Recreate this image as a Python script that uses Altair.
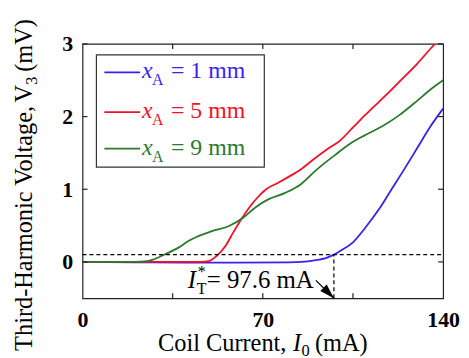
import altair as alt
import pandas as pd

# ---------------- data ----------------
series_names = ["1 mm", "5 mm", "9 mm"]
series_colors = ["#3b1ff0", "#f5102a", "#2c7a2c"]

blue_I = [0, 20, 40, 60, 80, 85, 90, 95, 97.6, 100, 105, 110, 115, 120, 125, 130, 135, 140]
blue_V = [0, -0.005, -0.01, -0.01, -0.005, 0.0, 0.02, 0.06, 0.1, 0.15, 0.27, 0.48, 0.72,
          1.0, 1.28, 1.57, 1.86, 2.11]

red_I = [0, 20, 40, 46, 49, 52, 55.5, 58.6, 61.7, 65.2, 68.3, 71.3, 76, 80, 85, 90, 95,
         100, 105, 110, 115, 120, 125, 130, 135, 140]
red_V = [0, 0, 0, 0, 0.01, 0.08, 0.22, 0.41, 0.59, 0.77, 0.9, 1.0, 1.09, 1.17, 1.28, 1.42,
         1.55, 1.67, 1.85, 2.03, 2.2, 2.37, 2.55, 2.73, 2.93, 3.12]

green_I = [0, 20, 25, 28, 32.4, 37.4, 41.3, 44, 50, 56.7, 62.5, 67.1, 72.1, 78.7, 84.8,
           90.6, 98, 104, 110, 117, 123, 130, 135, 140]
green_V = [0, 0, 0.01, 0.04, 0.11, 0.2, 0.29, 0.34, 0.42, 0.49, 0.61, 0.75, 0.86, 0.95,
           1.07, 1.26, 1.47, 1.63, 1.75, 1.88, 2.02, 2.22, 2.37, 2.5]

x_tick_labels = [0, 70, 140]
x_minor_ticks = [35, 70, 105]
y_ticks = [0, 1, 2, 3]

threshold_V = 0.1
IT = 97.6

# ---------------- build ----------------
FONT = "'Liberation Serif', 'Times New Roman', Times, 'DejaVu Serif', serif"
W, H = 363, 256
X_DOM = [0, 140]
Y_DOM = [-0.5, 3]

rows = []
for name, xs_, ys_ in zip(series_names, [blue_I, red_I, green_I], [blue_V, red_V, green_V]):
    for a, b in zip(xs_, ys_):
        rows.append({"I": a, "V": b, "s": name})
df = pd.DataFrame(rows)

xs = alt.Scale(domain=X_DOM, nice=False, zero=False)
ys = alt.Scale(domain=Y_DOM, nice=False, zero=False)

curves = alt.Chart(df).mark_line(interpolate="monotone", strokeWidth=1.8, clip=True).encode(
    x=alt.X("I:Q", scale=xs,
            axis=alt.Axis(values=x_tick_labels, title=None, grid=False, ticks=False,
                          domain=False, labelFlush=False, labelPadding=11, format="d")),
    y=alt.Y("V:Q", scale=ys,
            axis=alt.Axis(values=y_ticks, title=None, grid=False, ticks=False,
                          domain=False, labelPadding=10, format="d")),
    color=alt.Color("s:N", scale=alt.Scale(domain=series_names, range=series_colors), legend=None),
    detail="s:N",
)

layers = [curves]

# threshold dashed lines
thr = pd.DataFrame({"x0": [X_DOM[0]], "x1": [X_DOM[1]], "y": [threshold_V]})
layers.append(alt.Chart(thr).mark_rule(color="black", strokeDash=[4, 3], strokeWidth=1.2).encode(
    x=alt.X("x0:Q", scale=xs), x2="x1:Q", y=alt.Y("y:Q", scale=ys)))
vt = pd.DataFrame({"x": [IT], "y0": [Y_DOM[0]], "y1": [threshold_V]})
layers.append(alt.Chart(vt).mark_rule(color="black", strokeDash=[4, 3], strokeWidth=1.2).encode(
    x=alt.X("x:Q", scale=xs), y=alt.Y("y0:Q", scale=ys), y2="y1:Q"))

# arrow
arr = pd.DataFrame({"x": [90.6, IT], "y": [-0.254, Y_DOM[0]], "o": [0, 1]})
layers.append(alt.Chart(arr).mark_line(color="black", strokeWidth=1.3).encode(
    x=alt.X("x:Q", scale=xs), y=alt.Y("y:Q", scale=ys), order="o:Q"))
tip = pd.DataFrame({"x": [IT], "y": [Y_DOM[0]]})
layers.append(alt.Chart(tip).mark_point(shape="M0,0L-0.4,1.3L0.4,1.3Z", filled=True,
                                        size=520, angle=135, color="black", opacity=1).encode(
    x=alt.X("x:Q", scale=xs), y=alt.Y("y:Q", scale=ys)))

# inward ticks
tx = pd.DataFrame({"v": x_minor_ticks})
layers.append(alt.Chart(tx).mark_rule(color="#222", strokeWidth=1.2).encode(
    x=alt.X("v:Q", scale=xs), y=alt.value(H), y2=alt.value(H - 5)))
layers.append(alt.Chart(tx).mark_rule(color="#222", strokeWidth=1.2).encode(
    x=alt.X("v:Q", scale=xs), y=alt.value(0), y2=alt.value(5)))
ty = pd.DataFrame({"v": y_ticks})
layers.append(alt.Chart(ty).mark_rule(color="#222", strokeWidth=1.2).encode(
    y=alt.Y("v:Q", scale=ys), x=alt.value(0), x2=alt.value(5)))
layers.append(alt.Chart(ty).mark_rule(color="#222", strokeWidth=1.2).encode(
    y=alt.Y("v:Q", scale=ys), x=alt.value(W), x2=alt.value(W - 5)))


def txt(s, x, y, size=25, style="normal", color="black", angle=0):
    d = pd.DataFrame({"t": [s]})
    kw = dict(font=FONT, fontSize=size, fontStyle=style, color=color, align="left",
              baseline="alphabetic")
    if angle:
        kw["angle"] = angle
    return alt.Chart(d).mark_text(**kw).encode(x=alt.value(x), y=alt.value(y), text="t:N")


# legend box
box = pd.DataFrame({"a": [0]})
layers.append(alt.Chart(box).mark_rect(fill="white", stroke="#333", strokeWidth=1.2).encode(
    x=alt.value(14), x2=alt.value(183), y=alt.value(11), y2=alt.value(124)))
leg_line_y = [28.7, 68.7, 105.5]
leg_base_y = [34.5, 74.5, 111.5]
for name, col, ly, by in zip(series_names, series_colors, leg_line_y, leg_base_y):
    layers.append(alt.Chart(box).mark_rule(color=col, strokeWidth=1.8).encode(
        x=alt.value(22), x2=alt.value(58), y=alt.value(ly)))
    layers.append(txt("x", 60, by, size=24, style="italic", color=col))
    layers.append(txt("A", 70, by + 7, size=16, color=col))
    layers.append(txt("= " + name, 89, by, size=24, color=col))

# threshold annotation
layers.append(txt("I", 106, 246, style="italic"))
layers.append(txt("T", 115, 252, size=16))
layers.append(txt("*", 116, 235, size=16))
layers.append(txt(f"= {IT} mA", 125, 246))

# x title: Coil Current, I0 (mA)
TS = 24.5
x0 = 76
layers.append(txt("Coil Current,", x0, 309, size=TS))
layers.append(txt("I", x0 + 136, 309, size=TS, style="italic"))
layers.append(txt("0", x0 + 144.5, 314, size=16.5))
layers.append(txt("(mA)", x0 + 158, 309, size=TS))

# y title (rotated): Third-Harmonic Voltage, V3 (mV)
y0 = 309
layers.append(txt("Third-Harmonic Voltage,", -51, y0, size=TS, angle=270))
layers.append(txt("V", -51, y0 - 250, size=TS, angle=270))
layers.append(txt("3", -46, y0 - 268, size=16.5, angle=270))
layers.append(txt("(mV)", -51, y0 - 281, size=TS, angle=270))

chart = alt.layer(*layers).properties(
    width=W, height=H,
    autosize=alt.AutoSizeParams(type="none"),
    padding={"left": 75, "top": 35, "right": 18, "bottom": 59},
).configure_view(stroke="#222", strokeWidth=1.2).configure_axis(
    labelFont=FONT, labelFontSize=22, labelFontWeight="bold", labelColor="black",
)

chart.save("out.html", embed_options={"renderer": "svg", "actions": False})
